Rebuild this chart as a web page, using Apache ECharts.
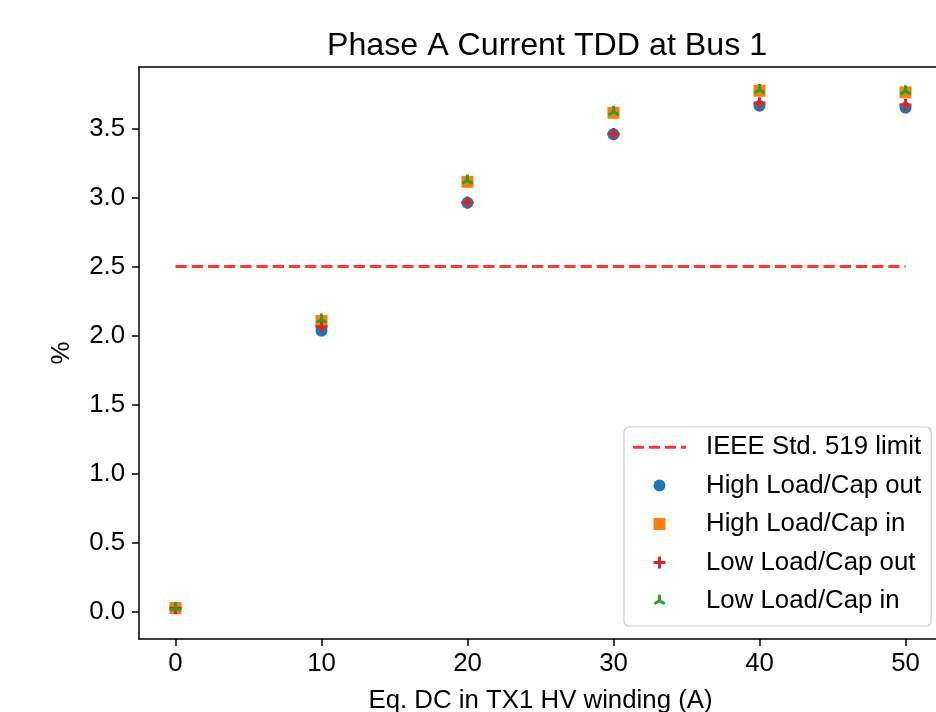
<!DOCTYPE html>
<html>
<head>
<meta charset="utf-8">
<script src="https://cdn.jsdelivr.net/npm/echarts@6/dist/echarts.min.js"></script>
<style>
html,body{margin:0;padding:0;background:#fff;}
#chart{width:936px;height:712px;}
</style>
</head>
<body>
<div id="chart"></div>
<script>
var xValues = [0, 10, 20, 30, 40, 50];
var highLoadCapOut = [0.024, 2.033, 2.961, 3.457, 3.664, 3.650];
var highLoadCapIn  = [0.024, 2.105, 3.113, 3.613, 3.773, 3.761];
var lowLoadCapOut  = [0.022, 2.062, 2.964, 3.460, 3.682, 3.669];
var lowLoadCapIn   = [0.026, 2.115, 3.122, 3.620, 3.778, 3.770];
var limitX = [0, 50];
var limitY = [2.5, 2.5];
var xTicks = [0, 10, 20, 30, 40, 50];
var yTicks = [0, 0.5, 1.0, 1.5, 2.0, 2.5, 3.0, 3.5];
var seriesNames = ['IEEE Std. 519 limit', 'High Load/Cap out', 'High Load/Cap in', 'Low Load/Cap out', 'Low Load/Cap in'];

function pair(xs, ys) { return xs.map(function (x, i) { return [x, ys[i]]; }); }

// marker shapes
var plusPath = 'path://M-1,-0.25L1,-0.25L1,0.25L-1,0.25Z M-0.25,-1L0.25,-1L0.25,1L-0.25,1Z';
var squarePath = 'path://M0,0L1,0L1,1L0,1Z';
function triPath(w) {
  var parts = [];
  [0, 120, 240].forEach(function (deg) {
    var t = deg * Math.PI / 180;
    var d = [Math.sin(t), -Math.cos(t)];
    var p = [Math.cos(t), Math.sin(t)];
    var c = [
      [-w * d[0] - w * p[0], -w * d[1] - w * p[1]],
      [d[0] - w * p[0], d[1] - w * p[1]],
      [d[0] + w * p[0], d[1] + w * p[1]],
      [-w * d[0] + w * p[0], -w * d[1] + w * p[1]]
    ];
    parts.push('M' + c.map(function (q) { return q[0].toFixed(3) + ',' + q[1].toFixed(3); }).join('L') + 'Z');
  });
  parts.push('M0,1L0,1Z');
  return 'path://' + parts.join(' ');
}
var tri = triPath(0.25);
var dashIcon = 'path://M0,0h11v3h-11z M16,0h11v3h-11z M32,0h11v3h-11z M48,0h5v3h-5z';

var FONT = "'Liberation Sans', Arial, Helvetica, sans-serif";
var FS = 25.8;
var chart = echarts.init(document.getElementById('chart'), null, {renderer: 'canvas'});
chart.setOption({
  animation: false,
  backgroundColor: '#fff',
  title: {
    text: 'Phase A Current TDD at Bus 1',
    left: 327,
    top: 30,
    padding: 0,
    textStyle: {fontFamily: FONT, fontSize: 32.2, fontWeight: 'normal', color: '#000'}
  },
  grid: {
    left: 139, top: 67, right: -6, bottom: 73,
    outerBoundsMode: 'none',
    containLabel: false,
    show: false
  },
  legend: {
    orient: 'vertical',
    left: 624,
    top: 427,
    padding: [7, 10, 12, 9],
    itemWidth: 53,
    itemHeight: 12,
    itemGap: 12,
    selectedMode: false,
    backgroundColor: 'rgba(255,255,255,0.8)',
    borderColor: '#cccccc',
    borderWidth: 1.2,
    borderRadius: 5,
    textStyle: {fontFamily: FONT, fontSize: FS, color: '#000', lineHeight: 26.4, padding: [0, 0, 0, 15]},
    data: [
      {name: seriesNames[0], icon: dashIcon},
      {name: seriesNames[1], icon: 'circle'},
      {name: seriesNames[2], icon: squarePath},
      {name: seriesNames[3], icon: plusPath},
      {name: seriesNames[4], icon: tri}
    ]
  },
  xAxis: [{
    type: 'value',
    min: -2.5, max: 52.5,
    name: 'Eq. DC in TX1 HV winding (A)',
    nameLocation: 'middle',
    nameGap: 49,
    nameTextStyle: {fontFamily: FONT, fontSize: FS, color: '#000'},
    splitLine: {show: false},
    axisLine: {show: true, onZero: false, lineStyle: {color: '#000', width: 1.5}},
    axisTick: {show: true, length: 7, lineStyle: {color: '#000', width: 1.5}, customValues: xTicks},
    axisLabel: {fontFamily: FONT, fontSize: FS, color: '#000', margin: 12, customValues: xTicks,
      formatter: function (v) { return String(v); }}
  }, {
    type: 'value',
    position: 'top',
    min: -2.5, max: 52.5,
    splitLine: {show: false},
    axisLine: {show: true, onZero: false, lineStyle: {color: '#000', width: 1.5}},
    axisTick: {show: false},
    axisLabel: {show: false}
  }],
  yAxis: {
    type: 'value',
    min: -0.2, max: 3.945,
    name: '%',
    nameLocation: 'middle',
    nameGap: 64,
    nameRotate: 90,
    nameTextStyle: {fontFamily: FONT, fontSize: FS, color: '#000'},
    splitLine: {show: false},
    axisLine: {show: true, onZero: false, lineStyle: {color: '#000', width: 1.5}},
    axisTick: {show: true, length: 7, lineStyle: {color: '#000', width: 1.5}, customValues: yTicks},
    axisLabel: {fontFamily: FONT, fontSize: FS, color: '#000', margin: 14, customValues: yTicks,
      formatter: function (v) { return v.toFixed(1); }}
  },
  series: [
    {
      name: seriesNames[0], type: 'line', data: pair(limitX, limitY),
      symbol: 'none', silent: true,
      itemStyle: {color: 'rgba(255,0,0,0.78)'},
      lineStyle: {color: 'rgba(255,0,0,0.78)', width: 3, type: [11.3, 4.9]}
    },
    {
      name: seriesNames[1], type: 'scatter', data: pair(xValues, highLoadCapOut),
      symbol: 'circle', symbolSize: 12, itemStyle: {color: '#1f77b4', opacity: 1}
    },
    {
      name: seriesNames[2], type: 'scatter', data: pair(xValues, highLoadCapIn),
      symbol: 'rect', symbolSize: 12, itemStyle: {color: '#ff7f0e', opacity: 1}
    },
    {
      name: seriesNames[3], type: 'scatter', data: pair(xValues, lowLoadCapOut),
      symbol: plusPath, symbolSize: 12, itemStyle: {color: '#d62728', opacity: 1}
    },
    {
      name: seriesNames[4], type: 'scatter', data: pair(xValues, lowLoadCapIn),
      symbol: tri, symbolSize: [11.7, 12], itemStyle: {color: '#2ca02c', opacity: 1}
    }
  ]
});
</script>
</body>
</html>
